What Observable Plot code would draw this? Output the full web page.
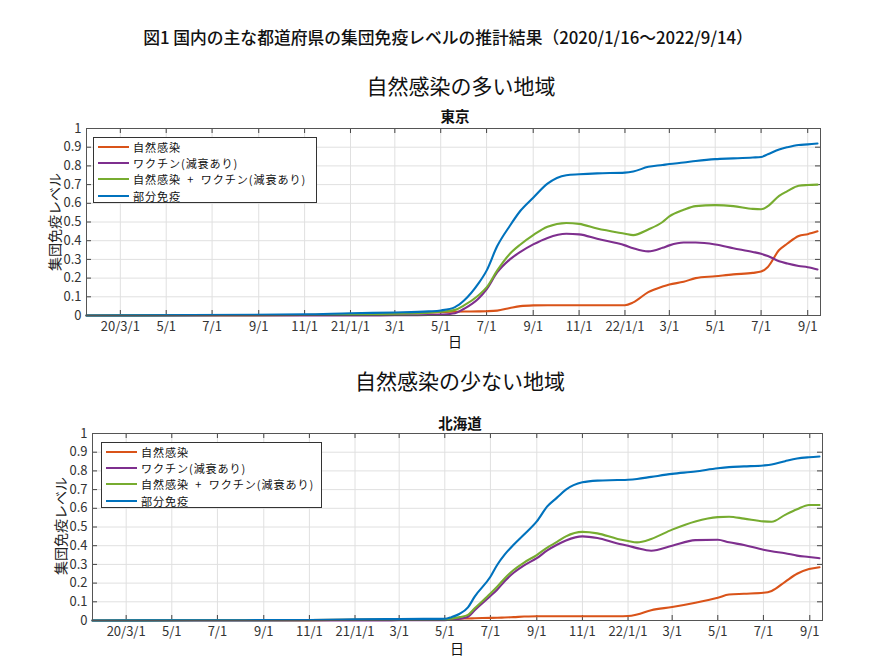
<!DOCTYPE html>
<html><head><meta charset="utf-8">
<script src="https://cdn.jsdelivr.net/npm/d3@7"></script>
<script src="https://cdn.jsdelivr.net/npm/@observablehq/plot@0.6"></script>
<style>
body{margin:0;background:#fff;font-family:"Noto Sans CJK JP","Noto Sans",sans-serif;}
#page{position:relative;width:885px;height:672px;overflow:hidden;}
.t{position:absolute;white-space:nowrap;transform:translate(-50%,-50%);color:#111;line-height:1;}
.ylab{position:absolute;white-space:nowrap;transform:translate(-50%,-50%) rotate(-90deg);color:#222;font-size:14px;line-height:1;}
.legend{position:absolute;border:1px solid #333;background:#fff;font-size:11.1px;letter-spacing:0.9px;color:#111;box-sizing:border-box;padding-top:0.5px;white-space:nowrap;word-spacing:3px;}
.row{display:flex;align-items:center;height:16.3px;white-space:nowrap;}
.sw{display:inline-block;flex:none;width:31px;height:2px;margin-left:4px;margin-right:4px;}
svg{position:absolute;left:0;}
</style></head><body><div id="page"></div>
<script>
// ---- shared labels ----
const seriesNames = ["自然感染","ワクチン(減衰あり)","自然感染 + ワクチン(減衰あり)","部分免疫"];
const seriesColors = ["#D95319","#7E2F8E","#77AC30","#0072BD"];
const xTickDates = ["2020-03-01","2020-05-01","2020-07-01","2020-09-01","2020-11-01","2021-01-01","2021-03-01","2021-05-01","2021-07-01","2021-09-01","2021-11-01","2022-01-01","2022-03-01","2022-05-01","2022-07-01","2022-09-01"];
const xTickLabels = ["20/3/1","5/1","7/1","9/1","11/1","21/1/1","3/1","5/1","7/1","9/1","11/1","22/1/1","3/1","5/1","7/1","9/1"];
const yTicks = [0,0.1,0.2,0.3,0.4,0.5,0.6,0.7,0.8,0.9,1];
const yTickLabels = ["0","0.1","0.2","0.3","0.4","0.5","0.6","0.7","0.8","0.9","1"];
const xDomain = ["2020-01-16","2022-09-18"];

// ---- 東京 ----
const tokyoDates = ["2020-01-16","2020-06-01","2020-11-01","2021-01-01","2021-03-01","2021-04-15","2021-05-01","2021-05-20","2021-06-01","2021-06-20","2021-07-01","2021-07-15","2021-08-01","2021-08-15","2021-09-01","2021-09-20","2021-10-15","2021-11-01","2021-11-25","2022-01-01","2022-01-12","2022-02-01","2022-02-20","2022-03-01","2022-03-20","2022-04-05","2022-05-01","2022-05-25","2022-06-20","2022-07-01","2022-07-10","2022-07-25","2022-08-05","2022-08-20","2022-09-01","2022-09-14"];
const tokyoNatural = [0,0.001,0.003,0.006,0.01,0.015,0.018,0.02,0.021,0.022,0.023,0.026,0.04,0.05,0.054,0.055,0.055,0.055,0.055,0.055,0.07,0.125,0.155,0.166,0.18,0.2,0.21,0.22,0.228,0.235,0.26,0.35,0.385,0.425,0.435,0.45];
const tokyoVaccine = [0,0,0,0,0.001,0.003,0.005,0.012,0.036,0.09,0.14,0.23,0.30,0.34,0.38,0.415,0.437,0.434,0.41,0.375,0.36,0.343,0.362,0.375,0.39,0.39,0.38,0.36,0.34,0.33,0.318,0.29,0.278,0.265,0.258,0.246];
const tokyoCombined = [0,0.001,0.003,0.006,0.01,0.015,0.02,0.03,0.054,0.107,0.15,0.24,0.33,0.38,0.43,0.475,0.495,0.49,0.465,0.4375,0.43,0.46,0.5,0.53,0.565,0.585,0.59,0.585,0.57,0.568,0.585,0.64,0.665,0.694,0.698,0.70];
const tokyoPartial = [0,0.002,0.006,0.012,0.016,0.022,0.027,0.045,0.08,0.17,0.24,0.37,0.48,0.56,0.63,0.705,0.75,0.755,0.76,0.764,0.77,0.795,0.805,0.81,0.818,0.826,0.836,0.84,0.845,0.848,0.862,0.888,0.9,0.912,0.915,0.92];

// ---- 北海道 ----
const hokkaidoDates = ["2020-01-16","2020-06-01","2020-11-01","2021-01-01","2021-03-01","2021-05-01","2021-05-10","2021-05-21","2021-06-01","2021-06-10","2021-07-01","2021-07-10","2021-07-20","2021-08-01","2021-08-15","2021-09-01","2021-09-15","2021-09-28","2021-10-10","2021-11-01","2021-11-21","2021-12-18","2022-01-01","2022-01-13","2022-02-01","2022-03-01","2022-04-01","2022-05-01","2022-05-16","2022-06-05","2022-07-01","2022-07-12","2022-07-30","2022-08-15","2022-08-31","2022-09-14"];
const hokkaidoNatural = [0,0.001,0.002,0.004,0.005,0.006,0.008,0.01,0.011,0.012,0.014,0.015,0.016,0.018,0.021,0.023,0.023,0.023,0.023,0.023,0.023,0.023,0.024,0.032,0.055,0.072,0.095,0.122,0.139,0.143,0.148,0.158,0.207,0.25,0.275,0.285];
const hokkaidoVaccine = [0,0,0,0,0.001,0.002,0.004,0.009,0.02,0.055,0.131,0.165,0.21,0.255,0.295,0.333,0.375,0.405,0.428,0.45,0.441,0.412,0.4,0.387,0.373,0.4,0.43,0.432,0.418,0.404,0.378,0.37,0.36,0.347,0.34,0.333];
const hokkaidoCombined = [0,0.001,0.002,0.004,0.005,0.006,0.01,0.018,0.03,0.065,0.144,0.18,0.225,0.27,0.31,0.35,0.39,0.42,0.45,0.474,0.466,0.436,0.425,0.418,0.436,0.486,0.53,0.553,0.555,0.545,0.53,0.528,0.565,0.595,0.618,0.618];
const hokkaidoPartial = [0,0.001,0.003,0.006,0.008,0.009,0.018,0.036,0.07,0.128,0.234,0.297,0.352,0.405,0.46,0.53,0.61,0.657,0.70,0.739,0.748,0.751,0.753,0.757,0.768,0.784,0.797,0.814,0.82,0.824,0.829,0.834,0.852,0.866,0.873,0.877];

const parse = d3.utcParse("%Y-%m-%d");
const xt = xTickDates.map(parse);
const xLabelMap = new Map(xt.map((d,i)=>[+d, xTickLabels[i]]));
const yLabelMap = new Map(yTicks.map((d,i)=>[d, yTickLabels[i]]));
const page = document.getElementById("page");

function addText(txt, x, y, size, weight, cls="t") {
  const el = document.createElement("div");
  el.className = cls; el.textContent = txt;
  el.style.left = x+"px"; el.style.top = y+"px";
  el.style.fontSize = size+"px"; el.style.fontWeight = weight;
  page.appendChild(el);
}

function addLegend(left, top, w, h) {
  const lg = document.createElement("div");
  lg.className = "legend";
  lg.style.left = left+"px"; lg.style.top = top+"px";
  lg.style.width = w+"px"; lg.style.height = h+"px";
  seriesNames.forEach((n,i)=>{
    const r = document.createElement("div"); r.className="row";
    const s = document.createElement("span"); s.className="sw"; s.style.background = seriesColors[i];
    const t = document.createElement("span"); t.textContent = n;
    r.appendChild(s); r.appendChild(t); lg.appendChild(r);
  });
  page.appendChild(lg);
}

function makePlot(dates, series, top, ml, mr) {
  const W = 885, H = 250, mt = 23, mb = 40;
  const frameW = W - ml - mr, frameH = H - mt - mb;
  const ds = dates.map(parse);
  const marks = [
    Plot.gridX(xt, {stroke:"#e0e0e0", strokeOpacity:1}),
    Plot.gridY(yTicks, {stroke:"#e0e0e0", strokeOpacity:1}),
    Plot.tickX(xt, {x:d=>d, insetBottom: frameH-5, stroke:"#444"}),
    Plot.tickX(xt, {x:d=>d, insetTop: frameH-5, stroke:"#444"}),
    Plot.tickY(yTicks, {y:d=>d, insetRight: frameW-5, stroke:"#444"}),
    Plot.tickY(yTicks, {y:d=>d, insetLeft: frameW-5, stroke:"#444"})
  ];
  series.forEach((vals,i)=>{
    marks.push(Plot.line(ds.map((d,j)=>({date:d, value:vals[j]})),
      {x:"date", y:"value", stroke:seriesColors[i], strokeWidth:2.1, curve:"monotone-x"}));
  });
  marks.push(Plot.frame({stroke:"#555"}));
  marks.push(Plot.axisX(xt, {tickSize:0, tickPadding:6, tickFormat:d=>xLabelMap.get(+d), label:null, fill:"#333"}));
  marks.push(Plot.axisY(yTicks, {tickSize:0, tickPadding:5, tickFormat:d=>yLabelMap.get(d), label:null, fill:"#333"}));
  const svg = Plot.plot({
    width: W, height: H, marginTop: mt, marginBottom: mb, marginLeft: ml, marginRight: mr,
    x: {type:"utc", domain: xDomain.map(parse)},
    y: {domain:[0,1]},
    style: {fontFamily:'"Noto Sans CJK JP", sans-serif', fontSize:"13px", color:"#333", background:"transparent"},
    marks
  });
  svg.style.top = top+"px";
  page.appendChild(svg);
}

addText("図1 国内の主な都道府県の集団免疫レベルの推計結果（2020/1/16～2022/9/14）", 448, 37, 16.8, 500);
addText("自然感染の多い地域", 461, 85, 21, 400);
addText("東京", 455, 116, 14.5, 700);
makePlot(tokyoDates, [tokyoNatural, tokyoVaccine, tokyoCombined, tokyoPartial], 105, 86, 65);
addText("日", 455, 341, 14, 400);
addText("集団免疫レベル", 54, 222, 14, 400, "ylab");
addLegend(93, 137, 224, 66);

addText("自然感染の少ない地域", 460, 380, 21, 400);
addText("北海道", 460, 423, 14.5, 700);
makePlot(hokkaidoDates, [hokkaidoNatural, hokkaidoVaccine, hokkaidoCombined, hokkaidoPartial], 410, 92, 63);
addText("日", 457, 648, 14, 400);
addText("集団免疫レベル", 60, 526, 14, 400, "ylab");
addLegend(101, 442, 221, 66);
</script></body></html>
